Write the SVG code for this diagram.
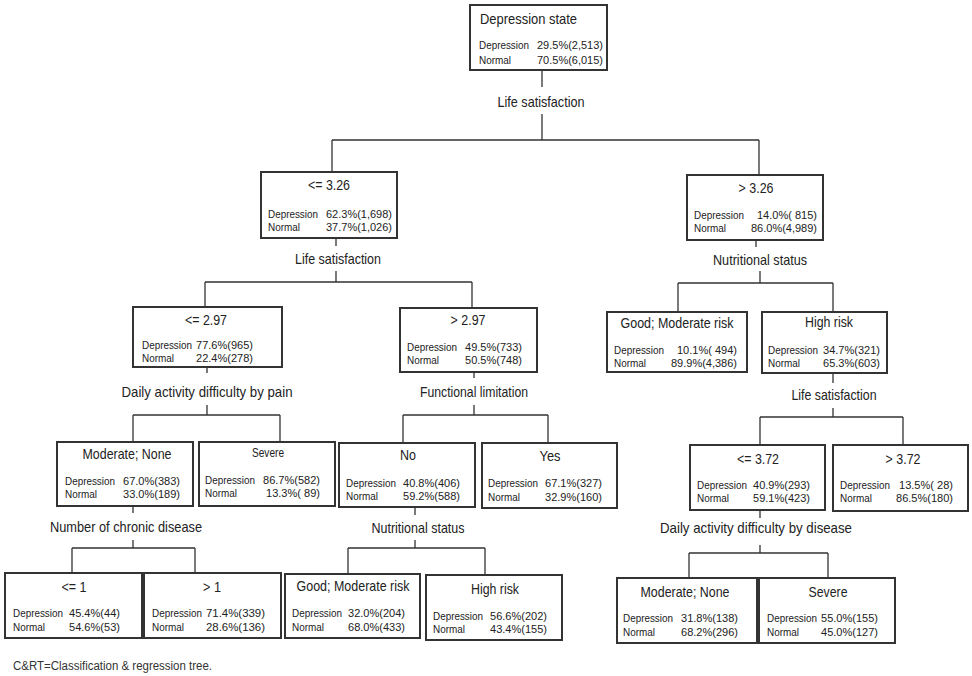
<svg xmlns="http://www.w3.org/2000/svg" width="972" height="676" viewBox="0 0 972 676">
<style>
.box{fill:#fff;stroke:#333;stroke-width:2}
.t{font-family:'Liberation Sans',Arial,sans-serif;fill:#222}
.ti{font-size:15px;text-anchor:middle}
.ti.s{text-anchor:start}
.r{font-size:11.5px}
.r.v{text-anchor:end}
.lab{font-size:14.5px;text-anchor:middle}
.cn{fill:none;stroke:#333;stroke-width:1.3}
.fn{font-family:'Liberation Sans',Arial,sans-serif;font-size:12.5px;fill:#333}
</style>
<rect width="972" height="676" fill="#fff"/>
<g id="connectors" class="cn">
<path d="M542 70V87M542 114V140M332 140H759M332 140V172M759 140V175"/>
<path d="M336 238V246M336 271V282M205 282H472M205 282V307M472 282V308"/>
<path d="M756 240V247M760 271V283M678 283H833M678 283V312M833 283V312"/>
<path d="M207 367V373M207 405V415M133 415H280M133 415V442M280 415V442"/>
<path d="M474 372V378M474 405V415M403 415H548M403 415V443M548 415V443"/>
<path d="M833 373V383M833 408V417M760 417H903M760 417V445M903 417V445"/>
<path d="M133 506V513M133 540V548M72 548H195M72 548V573M195 548V573"/>
<path d="M415 507V515M415 540V548M348 548H485M348 548V574M485 548V575"/>
<path d="M760 510V518M760 545V553M689 553H828M689 553V578M828 553V578"/>
</g>
<g id="labels" class="t lab">
<text x="541" y="107" textLength="87" lengthAdjust="spacingAndGlyphs">Life satisfaction</text>
<text x="338" y="264" textLength="86" lengthAdjust="spacingAndGlyphs">Life satisfaction</text>
<text x="760" y="265" textLength="94" lengthAdjust="spacingAndGlyphs">Nutritional status</text>
<text x="207" y="397" textLength="171" lengthAdjust="spacingAndGlyphs">Daily activity difficulty by pain</text>
<text x="474" y="397" textLength="108" lengthAdjust="spacingAndGlyphs">Functional limitation</text>
<text x="834" y="400" textLength="85" lengthAdjust="spacingAndGlyphs">Life satisfaction</text>
<text x="126" y="532" textLength="152" lengthAdjust="spacingAndGlyphs">Number of chronic disease</text>
<text x="418" y="533" textLength="93" lengthAdjust="spacingAndGlyphs">Nutritional status</text>
<text x="756" y="533" textLength="192" lengthAdjust="spacingAndGlyphs">Daily activity difficulty by disease</text>
</g>
<g id="root" class="t">
<rect class="box" x="470" y="5" width="137" height="65"/>
<text class="ti s" x="480" y="24" textLength="97" lengthAdjust="spacingAndGlyphs">Depression  state</text>
<text class="r" x="479" y="49" textLength="50" lengthAdjust="spacingAndGlyphs">Depression</text><text class="r v" x="603" y="49" textLength="66" lengthAdjust="spacingAndGlyphs">29.5%(2,513)</text>
<text class="r" x="479" y="64" textLength="32" lengthAdjust="spacingAndGlyphs">Normal</text><text class="r v" x="603" y="64" textLength="66" lengthAdjust="spacingAndGlyphs">70.5%(6,015)</text>
</g>
<g id="n_le326" class="t">
<rect class="box" x="261" y="172" width="136" height="66"/>
<text class="ti" x="329" y="190" textLength="42" lengthAdjust="spacingAndGlyphs">&lt;= 3.26</text>
<text class="r" x="268" y="218" textLength="50" lengthAdjust="spacingAndGlyphs">Depression</text><text class="r v" x="392" y="218" textLength="66" lengthAdjust="spacingAndGlyphs">62.3%(1,698)</text>
<text class="r" x="268" y="231" textLength="32" lengthAdjust="spacingAndGlyphs">Normal</text><text class="r v" x="392" y="231" textLength="66" lengthAdjust="spacingAndGlyphs">37.7%(1,026)</text>
</g>
<g id="n_gt326" class="t">
<rect class="box" x="687" y="175" width="136" height="65"/>
<text class="ti" x="756" y="193" textLength="35" lengthAdjust="spacingAndGlyphs">&gt; 3.26</text>
<text class="r" x="694" y="219" textLength="50" lengthAdjust="spacingAndGlyphs">Depression</text><text class="r v" x="817" y="219" textLength="60" lengthAdjust="spacingAndGlyphs">14.0%( 815)</text>
<text class="r" x="694" y="232" textLength="32" lengthAdjust="spacingAndGlyphs">Normal</text><text class="r v" x="817" y="232" textLength="66" lengthAdjust="spacingAndGlyphs">86.0%(4,989)</text>
</g>
<g id="n_le297" class="t">
<rect class="box" x="133" y="307" width="149" height="60"/>
<text class="ti" x="206" y="325" textLength="42" lengthAdjust="spacingAndGlyphs">&lt;= 2.97</text>
<text class="r" x="142" y="349" textLength="50" lengthAdjust="spacingAndGlyphs">Depression</text><text class="r v" x="253" y="349" textLength="57" lengthAdjust="spacingAndGlyphs">77.6%(965)</text>
<text class="r" x="142" y="362" textLength="32" lengthAdjust="spacingAndGlyphs">Normal</text><text class="r v" x="253" y="362" textLength="57" lengthAdjust="spacingAndGlyphs">22.4%(278)</text>
</g>
<g id="n_gt297" class="t">
<rect class="box" x="400" y="308" width="137" height="64"/>
<text class="ti" x="468" y="325" textLength="35" lengthAdjust="spacingAndGlyphs">&gt; 2.97</text>
<text class="r" x="407" y="351" textLength="50" lengthAdjust="spacingAndGlyphs">Depression</text><text class="r v" x="522" y="351" textLength="57" lengthAdjust="spacingAndGlyphs">49.5%(733)</text>
<text class="r" x="407" y="364" textLength="32" lengthAdjust="spacingAndGlyphs">Normal</text><text class="r v" x="522" y="364" textLength="57" lengthAdjust="spacingAndGlyphs">50.5%(748)</text>
</g>
<g id="n_nut_good" class="t">
<rect class="box" x="607" y="312" width="140" height="60"/>
<text class="ti" x="677" y="328" textLength="113" lengthAdjust="spacingAndGlyphs">Good; Moderate risk</text>
<text class="r" x="614" y="354" textLength="50" lengthAdjust="spacingAndGlyphs">Depression</text><text class="r v" x="737" y="354" textLength="60" lengthAdjust="spacingAndGlyphs">10.1%( 494)</text>
<text class="r" x="614" y="367" textLength="32" lengthAdjust="spacingAndGlyphs">Normal</text><text class="r v" x="737" y="367" textLength="66" lengthAdjust="spacingAndGlyphs">89.9%(4,386)</text>
</g>
<g id="n_nut_high" class="t">
<rect class="box" x="762" y="312" width="125" height="61"/>
<text class="ti" x="829" y="327" textLength="48" lengthAdjust="spacingAndGlyphs">High risk</text>
<text class="r" x="768" y="354" textLength="50" lengthAdjust="spacingAndGlyphs">Depression</text><text class="r v" x="880" y="354" textLength="57" lengthAdjust="spacingAndGlyphs">34.7%(321)</text>
<text class="r" x="768" y="367" textLength="32" lengthAdjust="spacingAndGlyphs">Normal</text><text class="r v" x="880" y="367" textLength="57" lengthAdjust="spacingAndGlyphs">65.3%(603)</text>
</g>
<g id="n_pain_mod" class="t">
<rect class="box" x="57" y="442" width="136" height="64"/>
<text class="ti" x="127" y="459" textLength="89" lengthAdjust="spacingAndGlyphs">Moderate; None</text>
<text class="r" x="65" y="485" textLength="50" lengthAdjust="spacingAndGlyphs">Depression</text><text class="r v" x="180" y="485" textLength="57" lengthAdjust="spacingAndGlyphs">67.0%(383)</text>
<text class="r" x="65" y="498" textLength="32" lengthAdjust="spacingAndGlyphs">Normal</text><text class="r v" x="180" y="498" textLength="57" lengthAdjust="spacingAndGlyphs">33.0%(189)</text>
</g>
<g id="n_pain_sev" class="t">
<rect class="box" x="199" y="442" width="136" height="64"/>
<text class="ti" x="268" y="457" style="font-size:12.5px" textLength="32" lengthAdjust="spacingAndGlyphs">Severe</text>
<text class="r" x="205" y="484" textLength="50" lengthAdjust="spacingAndGlyphs">Depression</text><text class="r v" x="320" y="484" textLength="57" lengthAdjust="spacingAndGlyphs">86.7%(582)</text>
<text class="r" x="205" y="497" textLength="32" lengthAdjust="spacingAndGlyphs">Normal</text><text class="r v" x="320" y="497" textLength="54" lengthAdjust="spacingAndGlyphs">13.3%( 89)</text>
</g>
<g id="n_func_no" class="t">
<rect class="box" x="339" y="443" width="136" height="64"/>
<text class="ti" x="408" y="460" textLength="16" lengthAdjust="spacingAndGlyphs">No</text>
<text class="r" x="346" y="487" textLength="50" lengthAdjust="spacingAndGlyphs">Depression</text><text class="r v" x="460" y="487" textLength="57" lengthAdjust="spacingAndGlyphs">40.8%(406)</text>
<text class="r" x="346" y="500" textLength="32" lengthAdjust="spacingAndGlyphs">Normal</text><text class="r v" x="460" y="500" textLength="57" lengthAdjust="spacingAndGlyphs">59.2%(588)</text>
</g>
<g id="n_func_yes" class="t">
<rect class="box" x="482" y="443" width="135" height="65"/>
<text class="ti" x="550" y="461" textLength="21" lengthAdjust="spacingAndGlyphs">Yes</text>
<text class="r" x="488" y="487" textLength="50" lengthAdjust="spacingAndGlyphs">Depression</text><text class="r v" x="602" y="487" textLength="57" lengthAdjust="spacingAndGlyphs">67.1%(327)</text>
<text class="r" x="488" y="501" textLength="32" lengthAdjust="spacingAndGlyphs">Normal</text><text class="r v" x="602" y="501" textLength="57" lengthAdjust="spacingAndGlyphs">32.9%(160)</text>
</g>
<g id="n_le372" class="t">
<rect class="box" x="690" y="445" width="135" height="65"/>
<text class="ti" x="758" y="464" textLength="42" lengthAdjust="spacingAndGlyphs">&lt;= 3.72</text>
<text class="r" x="697" y="489" textLength="50" lengthAdjust="spacingAndGlyphs">Depression</text><text class="r v" x="810" y="489" textLength="57" lengthAdjust="spacingAndGlyphs">40.9%(293)</text>
<text class="r" x="697" y="502" textLength="32" lengthAdjust="spacingAndGlyphs">Normal</text><text class="r v" x="810" y="502" textLength="57" lengthAdjust="spacingAndGlyphs">59.1%(423)</text>
</g>
<g id="n_gt372" class="t">
<rect class="box" x="833" y="445" width="135" height="66"/>
<text class="ti" x="903" y="464" textLength="35" lengthAdjust="spacingAndGlyphs">&gt; 3.72</text>
<text class="r" x="840" y="489" textLength="50" lengthAdjust="spacingAndGlyphs">Depression</text><text class="r v" x="953" y="489" textLength="54" lengthAdjust="spacingAndGlyphs">13.5%( 28)</text>
<text class="r" x="840" y="502" textLength="32" lengthAdjust="spacingAndGlyphs">Normal</text><text class="r v" x="953" y="502" textLength="57" lengthAdjust="spacingAndGlyphs">86.5%(180)</text>
</g>
<g id="n_chr_le1" class="t">
<rect class="box" x="5" y="573" width="137" height="65"/>
<text class="ti" x="74" y="592" textLength="25" lengthAdjust="spacingAndGlyphs">&lt;= 1</text>
<text class="r" x="13" y="617" textLength="50" lengthAdjust="spacingAndGlyphs">Depression</text><text class="r v" x="120" y="617" textLength="51" lengthAdjust="spacingAndGlyphs">45.4%(44)</text>
<text class="r" x="13" y="631" textLength="32" lengthAdjust="spacingAndGlyphs">Normal</text><text class="r v" x="120" y="631" textLength="51" lengthAdjust="spacingAndGlyphs">54.6%(53)</text>
</g>
<g id="n_chr_gt1" class="t">
<rect class="box" x="144" y="573" width="137" height="65"/>
<text class="ti" x="212" y="592" textLength="18" lengthAdjust="spacingAndGlyphs">&gt; 1</text>
<text class="r" x="152" y="617" textLength="50" lengthAdjust="spacingAndGlyphs">Depression</text><text class="r v" x="265" y="617" textLength="59" lengthAdjust="spacingAndGlyphs">71.4%(339)</text>
<text class="r" x="152" y="631" textLength="32" lengthAdjust="spacingAndGlyphs">Normal</text><text class="r v" x="265" y="631" textLength="59" lengthAdjust="spacingAndGlyphs">28.6%(136)</text>
</g>
<g id="n_nut2_good" class="t">
<rect class="box" x="285" y="574" width="135" height="64"/>
<text class="ti" x="353" y="591" textLength="113" lengthAdjust="spacingAndGlyphs">Good; Moderate risk</text>
<text class="r" x="292" y="617" textLength="50" lengthAdjust="spacingAndGlyphs">Depression</text><text class="r v" x="405" y="617" textLength="57" lengthAdjust="spacingAndGlyphs">32.0%(204)</text>
<text class="r" x="292" y="631" textLength="32" lengthAdjust="spacingAndGlyphs">Normal</text><text class="r v" x="405" y="631" textLength="57" lengthAdjust="spacingAndGlyphs">68.0%(433)</text>
</g>
<g id="n_nut2_high" class="t">
<rect class="box" x="426" y="575" width="136" height="65"/>
<text class="ti" x="495" y="594" textLength="48" lengthAdjust="spacingAndGlyphs">High risk</text>
<text class="r" x="433" y="620" textLength="50" lengthAdjust="spacingAndGlyphs">Depression</text><text class="r v" x="547" y="620" textLength="57" lengthAdjust="spacingAndGlyphs">56.6%(202)</text>
<text class="r" x="433" y="633" textLength="32" lengthAdjust="spacingAndGlyphs">Normal</text><text class="r v" x="547" y="633" textLength="57" lengthAdjust="spacingAndGlyphs">43.4%(155)</text>
</g>
<g id="n_dis_mod" class="t">
<rect class="box" x="617" y="578" width="140" height="65"/>
<text class="ti" x="685" y="597" textLength="89" lengthAdjust="spacingAndGlyphs">Moderate; None</text>
<text class="r" x="623" y="622" textLength="50" lengthAdjust="spacingAndGlyphs">Depression</text><text class="r v" x="738" y="622" textLength="57" lengthAdjust="spacingAndGlyphs">31.8%(138)</text>
<text class="r" x="623" y="636" textLength="32" lengthAdjust="spacingAndGlyphs">Normal</text><text class="r v" x="738" y="636" textLength="57" lengthAdjust="spacingAndGlyphs">68.2%(296)</text>
</g>
<g id="n_dis_sev" class="t">
<rect class="box" x="759" y="578" width="136" height="65"/>
<text class="ti" x="828" y="597" textLength="39" lengthAdjust="spacingAndGlyphs">Severe</text>
<text class="r" x="767" y="622" textLength="50" lengthAdjust="spacingAndGlyphs">Depression</text><text class="r v" x="878" y="622" textLength="57" lengthAdjust="spacingAndGlyphs">55.0%(155)</text>
<text class="r" x="767" y="636" textLength="32" lengthAdjust="spacingAndGlyphs">Normal</text><text class="r v" x="878" y="636" textLength="57" lengthAdjust="spacingAndGlyphs">45.0%(127)</text>
</g>
<text class="fn" x="13" y="670" textLength="199" lengthAdjust="spacingAndGlyphs">C&amp;RT=Classification &amp; regression tree.</text>
</svg>
